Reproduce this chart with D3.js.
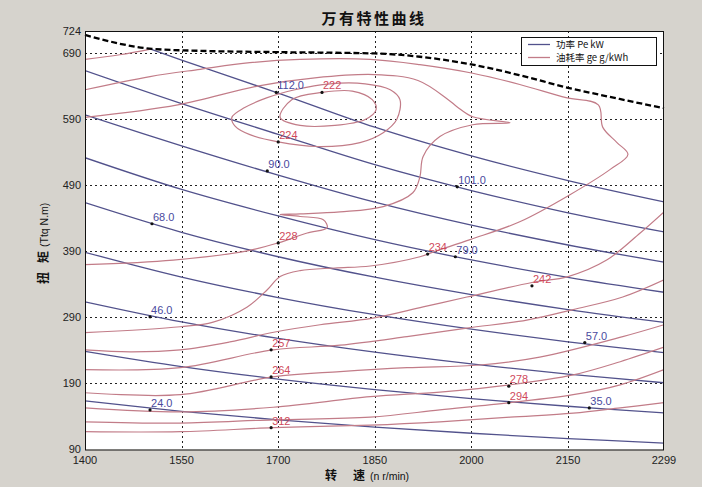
<!DOCTYPE html>
<html><head><meta charset="utf-8">
<script src="https://cdn.jsdelivr.net/npm/d3@7"></script>
<style>
html,body{margin:0;padding:0;background:#d6d3cd;}
svg{display:block;}
</style></head><body>
<svg id="chart" width="702" height="487"></svg>
<script>
// ---------- data ----------
const xTicks = [1400,1550,1700,1850,2000,2150,2299];
const yTicks = [90,190,290,390,490,590,690,724];
const rpmNodes = [1400,1550,1700,1850,2000,2150,2299];

const powerLevels = [24,35,46,57,68,79,90,101,112];
const power24  = [163.7,147.9,134.8,123.9,114.6,106.6,99.7];
const power35  = [238.8,215.6,196.6,180.7,167.1,155.5,145.4];
const power46  = [313.8,283.4,258.4,237.5,219.7,204.3,191.1];
const power57  = [388.8,351.2,320.2,294.2,272.2,253.2,236.8];
const power68  = [463.9,419.0,382.0,351.0,324.7,302.0,282.5];
const power79  = [532.0,484.0,443.8,407.8,377.2,350.9,328.2];
const power90  = [597.0,550.0,505.6,464.6,429.8,399.8,373.9];
const power101 = [664.0,614.0,567.4,521.4,482.3,448.6,419.6];
const power112 = [732.0,680.0,630.0,578.2,534.8,497.5,465.2];
const powerSeries = [power24,power35,power46,power57,power68,power79,power90,power101,power112];
const powerLabels = [[1501,150,"24.0"],[2183,153,"35.0"],[1501,291,"46.0"],[2176,252,"57.0"],
  [1504,432,"68.0"],[1975,382,"79.0"],[1683,512,"90.0"],[1978,488,"101.0"],[1697,631,"112.0"]];

const fullLoad = [[1400,718],[1504,697],[1578,694],[1700,692],[1850,690],[1920,685],[2002,673],
  [2075,657],[2150,638],[2230,621],[2299,607]];

const bsfcLevels = [222,224,228,234,242,257,264,278,294,312];
const bsfc222 = [[1703,593],[1721,620],[1768,631],[1815,633],[1846,620],[1852,605],[1835,590],[1788,581],[1734,581]];
const bsfc224 = [[1628,593],[1648,608],[1683,623],[1726,635],[1780,644],[1835,644],[1874,635],[1889,620],
  [1884,590],[1863,570],[1827,555],[1760,549],[1700,556],[1656,567],[1633,580]];
const bsfc228 = [[1400,593],[1544,612],[1670,641],[1757,653],[1849,658],[1917,649],[1964,620],[1978,609],
  [2002,594],[2060,585],[2002,582],[1951,564],[1925,534],[1920,503],[1909,479],[1863,458],[1796,450],
  [1734,447],[1703,446],[1734,443],[1770,438],[1776,426],[1745,418],[1700,403],[1652,391],[1537,377],[1400,370]];
const bsfc234 = [[1400,267],[1548,276],[1599,283],[1652,306],[1683,332],[1703,352],[1734,361],[1788,365],
  [1843,368],[1920,382],[1943,390],[1998,408],[2075,435],[2153,476],[2215,514],[2243,537],[2226,555],
  [2204,578],[2197,612],[2147,623],[2075,643],[2002,660],[1920,673],[1843,681],[1734,681],[1656,676],
  [1579,666],[1501,655],[1400,635]];
const bsfc242a = [[1400,681],[1454,688],[1504,697]];
const bsfc242 = [[1400,241],[1470,238],[1548,241],[1625,253],[1695,268],[1765,279],[1847,289],[1925,306],
  [1993,321],[2094,343],[2150,352],[2210,377],[2262,418],[2299,450]];
const bsfc257 = [[1400,211],[1548,214],[1692,241],[1796,248],[1900,261],[1993,274],[2086,286],[2158,302],[2235,321],[2299,347]];
const bsfc264 = [[1400,176],[1548,173],[1692,200],[1796,208],[1900,214],[2013,218],[2106,230],[2235,261],[2299,279]];
const bsfc278 = [[1400,153],[1548,147],[1692,154],[1843,170],[1951,177],[2060,188],[2158,203],[2231,223],[2299,245]];
const bsfc294 = [[1400,132],[1548,130],[1692,135],[1843,139],[1951,150],[2060,161],[2158,173],[2231,188],[2299,211]];
const bsfc312 = [[1400,117],[1548,117],[1692,123],[1843,127],[1951,132],[2060,139],[2158,145],[2231,153],[2299,161]];
const bsfcOpen = [bsfc228,bsfc234,bsfc242a,bsfc242,bsfc257,bsfc264,bsfc278,bsfc294,bsfc312];
const bsfcClosed = [bsfc222,bsfc224];
const bsfcLabels = [[1768,631,"222"],[1700,556,"224"],[1700,403,"228"],[1932,386,"234"],[2094,338,"242"],
  [1689,241,"257"],[1689,200,"264"],[2058,186,"278"],[2058,161,"294"],[1689,123,"312"]];

const legendItems = ["功率 Pe kW","油耗率 ge g/kWh"];

// ---------- drawing ----------
const blue = "#52528c", red = "#c27c88";
const svg = d3.select("#chart");
const m = {l:85, r:664, t:31, b:449.5};
const x = d3.scaleLinear().domain([1400,2299]).range([m.l,m.r]);
const y = d3.scaleLinear().domain([90,724]).range([m.b,m.t]);
const font = "'Liberation Sans', Arial, sans-serif";
const cjk = "'Noto Sans CJK SC', 'Noto Sans', sans-serif";

svg.append("rect").attr("width",702).attr("height",487).attr("fill","#d6d3cd");
svg.append("rect").attr("x",m.l).attr("y",m.t).attr("width",m.r-m.l).attr("height",m.b-m.t).attr("fill","#fff");

const defs = svg.append("defs");
defs.append("clipPath").attr("id","under").append("path")
  .attr("d", d3.area().x(d=>x(d[0])).y0(m.b).y1(d=>y(d[1])).curve(d3.curveMonotoneX)(fullLoad));

// grid
const grid = svg.append("g").attr("stroke","#222").attr("stroke-width",1).attr("stroke-dasharray","2,3");
xTicks.slice(1,-1).forEach(v=>grid.append("line").attr("x1",Math.round(x(v))+0.5).attr("x2",Math.round(x(v))+0.5).attr("y1",m.t).attr("y2",m.b));
yTicks.slice(1,-1).forEach(v=>grid.append("line").attr("y1",Math.round(y(v))+0.5).attr("y2",Math.round(y(v))+0.5).attr("x1",m.l).attr("x2",m.r));

const plot = svg.append("g").attr("clip-path","url(#under)");
const lineGen = d3.line().x(d=>x(d[0])).y(d=>y(d[1])).curve(d3.curveCatmullRom.alpha(0.5));
const closedGen = d3.line().x(d=>x(d[0])).y(d=>y(d[1])).curve(d3.curveCatmullRomClosed.alpha(0.5));

powerSeries.forEach(s=>{
  const pts = rpmNodes.map((n,i)=>[n,s[i]]);
  plot.append("path").attr("d",lineGen(pts)).attr("fill","none").attr("stroke",blue).attr("stroke-width",1.3);
});
bsfcOpen.forEach(c=>plot.append("path").attr("d",lineGen(c)).attr("fill","none").attr("stroke",red).attr("stroke-width",1.2));
bsfcClosed.forEach(c=>plot.append("path").attr("d",closedGen(c)).attr("fill","none").attr("stroke",red).attr("stroke-width",1.2));

svg.append("path").attr("d",d3.line().x(d=>x(d[0])).y(d=>y(d[1])).curve(d3.curveMonotoneX)(fullLoad))
  .attr("fill","none").attr("stroke","#000").attr("stroke-width",2.3).attr("stroke-dasharray","6,3");

function addLabels(arr,color){
  arr.forEach(d=>{
    svg.append("circle").attr("cx",x(d[0])).attr("cy",y(d[1])).attr("r",1.6).attr("fill","#111");
    svg.append("text").attr("x",x(d[0])+1).attr("y",y(d[1])-3).text(d[2])
      .attr("font-family",font).attr("font-size",11).attr("fill",color);
  });
}
addLabels(powerLabels,"#4a4a9e");
addLabels(bsfcLabels,"#d04a5c");

svg.append("rect").attr("x",m.l+0.5).attr("y",m.t+0.5).attr("width",m.r-m.l-1).attr("height",m.b-m.t)
  .attr("fill","none").attr("stroke","#111").attr("stroke-width",1);

xTicks.forEach(v=>svg.append("text").attr("x",x(v)).attr("y",m.b+14.5).attr("text-anchor","middle")
  .attr("font-family",font).attr("font-size",11).attr("fill","#222").text(v));
yTicks.forEach(v=>svg.append("text").attr("x",m.l-4).attr("y",y(v)+3.5).attr("text-anchor","end")
  .attr("font-family",font).attr("font-size",11).attr("fill","#222").text(v));

// title
svg.append("text").attr("x",374).attr("y",24).attr("text-anchor","middle").attr("font-family",cjk)
  .attr("font-weight","bold").attr("font-size",15).attr("letter-spacing",2.5).attr("fill","#111").text("万有特性曲线");

// axis titles
const xl = svg.append("text").attr("y",480).attr("fill","#111");
xl.append("tspan").attr("x",325).attr("font-family",cjk).attr("font-weight","bold").attr("font-size",12).text("转");
xl.append("tspan").attr("x",353).attr("font-family",cjk).attr("font-weight","bold").attr("font-size",12).text("速");
xl.append("tspan").attr("x",370).attr("font-family",font).attr("font-size",10.5).text("(n r/min)");
const yl = svg.append("text").attr("transform","rotate(-90)").attr("y",48).attr("fill","#111");
yl.append("tspan").attr("x",-284).attr("font-family",cjk).attr("font-weight","bold").attr("font-size",12).text("扭");
yl.append("tspan").attr("x",-263).attr("font-family",cjk).attr("font-weight","bold").attr("font-size",12).text("矩");
yl.append("tspan").attr("x",-247).attr("font-family",font).attr("font-size",10.5).text("(Ttq N.m)");

// legend
const lg = svg.append("g");
lg.append("rect").attr("x",521.5).attr("y",37.5).attr("width",135).attr("height",28).attr("fill","#fff").attr("stroke","#111");
[[blue,legendItems[0],44.5],[red,legendItems[1],57.5]].forEach(d=>{
  lg.append("line").attr("x1",528).attr("x2",550).attr("y1",d[2]).attr("y2",d[2]).attr("stroke",d[0]).attr("stroke-width",1.3);
  lg.append("text").attr("x",556).attr("y",d[2]+3.5).attr("font-family",cjk).attr("font-size",9.5).attr("fill","#111").text(d[1]);
});
</script>
</body></html>
